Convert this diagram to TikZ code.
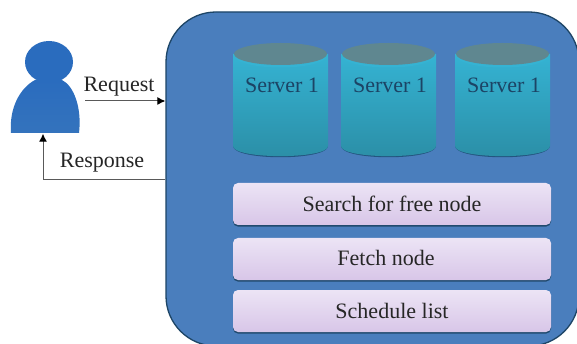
\documentclass[tikz,border=0pt]{standalone}
\usepackage{fontspec}
\setmainfont{Liberation Serif}
\usetikzlibrary{arrows.meta,shadows}
\definecolor{panelfill}{HTML}{4A7EBD}
\definecolor{paneledge}{HTML}{1D4566}
\definecolor{lilactop}{HTML}{ECE4F5}
\definecolor{lilacbot}{HTML}{D8C6E8}
\definecolor{cyltop}{HTML}{35B3D3}
\definecolor{cylbot}{HTML}{2B8EA6}
\definecolor{cylcap}{HTML}{5F8790}
\definecolor{cyledge}{HTML}{23557F}
\definecolor{usertop}{HTML}{2A6CBE}
\definecolor{userbot}{HTML}{3473BD}
\tikzset{
  x=1pt,y=-1pt,
  panelbox/.style={draw=paneledge,line width=1.3pt,fill=panelfill,rounded corners=50pt,minimum width=413pt,minimum height=334pt,inner sep=0pt},
  barbox/.style={rounded corners=5pt,top color=lilactop,bottom color=lilacbot,minimum width=318pt,minimum height=42pt,inner sep=0pt,font=\fontsize{22}{24}\selectfont,text=black!85,
    draw=none,drop shadow={shadow xshift=0pt,shadow yshift=-1.6pt,fill=paneledge,opacity=0.9}},
  cyllabel/.style={font=\fontsize{22}{24}\selectfont,text=cyledge!80!black,inner sep=0pt},
  flowlabel/.style={font=\fontsize{22}{24}\selectfont,text=black!85,inner sep=0pt},
  flow/.style={draw=black!65,line width=1pt,-{Latex[length=8pt,width=8pt,black]}},
}
\newcommand{\servercyl}[2]{% left, right
  \fill[cyledge] (#1,146) .. controls (#1,161.5) and (#2,161.5) .. (#2,146) -- cycle;
  \shade[top color=cyltop,bottom color=cylbot] (#1,54) -- (#2,54) -- (#2,146)
     .. controls (#2,159.5) and (#1,159.5) .. (#1,146) -- cycle;
  \fill[cyltop] (#1,54) .. controls (#1,72) and (#2,72) .. (#2,54) -- cycle;
  \fill[cylcap] ({(#1+#2)/2},54) ellipse[x radius={(#2-#1)/2-1},y radius=11];
}
\begin{document}
\begin{tikzpicture}
\useasboundingbox (0,0) rectangle (577,344);
\clip (0,0) rectangle (577,344);
\fill[white] (0,0) rectangle (577,344);

\node[panelbox] (panel) at (372.5,179) {};

\servercyl{233}{328}
\servercyl{341}{436}
\servercyl{455}{550}
\node[cyllabel] (s1) at (282,85) {Server 1};
\node[cyllabel] (s2) at (390,85) {Server 1};
\node[cyllabel] (s3) at (504,85) {Server 1};

\node[barbox] (search) at (392,204) {Search for free node};
\node[barbox] (fetch) at (392,259) {\raisebox{1.5pt}{\hspace*{-12pt}Fetch node}};
\node[barbox] (sched) at (392,311) {Schedule list};

% person
\shade[top color=usertop,bottom color=userbot] (11,133)
  .. controls (9,108) and (20,88) .. (35,80)
  -- (62,80)
  .. controls (74,86) and (82,108) .. (79,133) -- cycle;
\fill[usertop] (49,62) ellipse[x radius=24,y radius=21];
\node[minimum width=64pt,minimum height=91pt,inner sep=0pt] (user) at (43,88) {};

\coordinate (reqstart) at (85,101);
\coordinate (reqend) at (panel.west |- reqstart);
\coordinate (respstart) at (panel.west |- 0,180);
\draw[flow] (reqstart) -- (reqend);
\draw[flow] (respstart) -| (user.south);

\node[flowlabel] (request) at (119,87) {Request};
\node[flowlabel] (response) at (102,163) {Response};
\end{tikzpicture}
\end{document}
